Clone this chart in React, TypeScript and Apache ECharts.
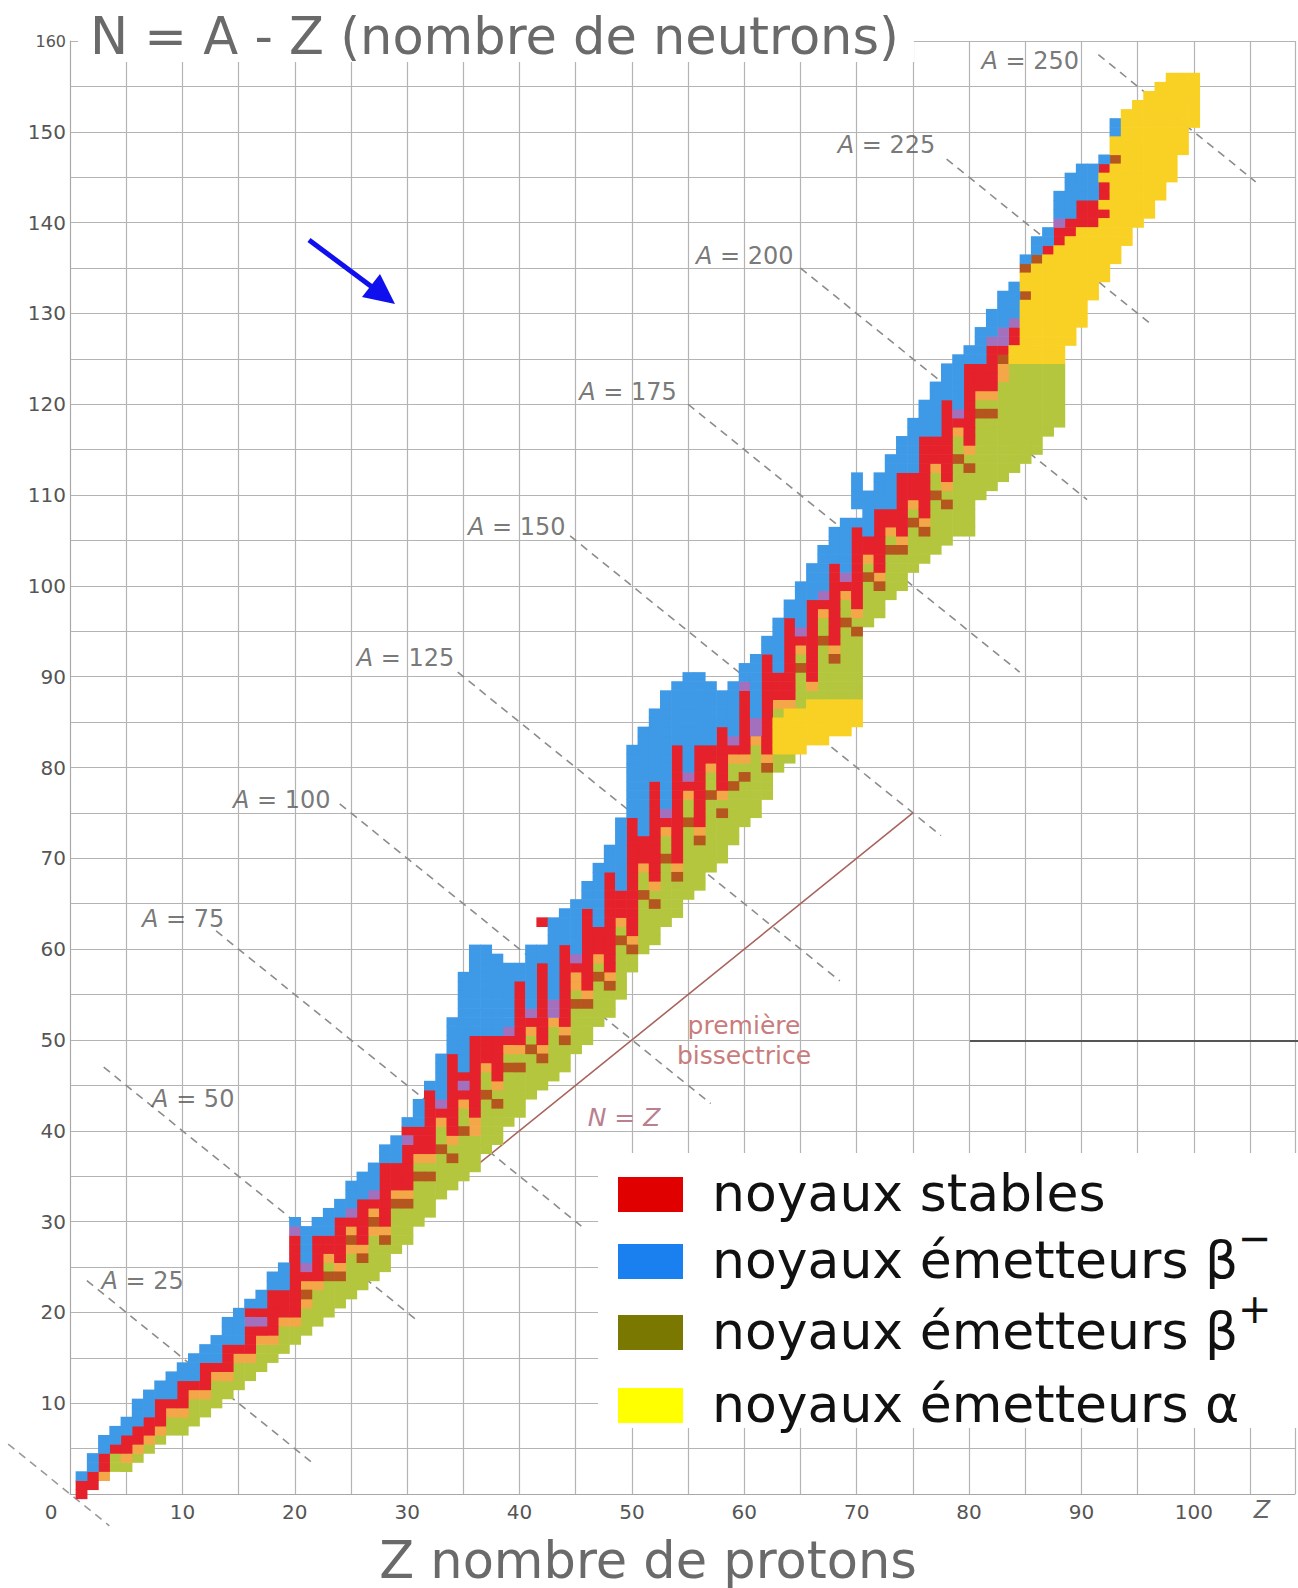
import React, { useEffect, useRef } from "react";
import * as echarts from "echarts";

// Each column: [Z, first N, run-length code from low N upward]
// R stable, B beta-, G beta+, Y alpha, O orange, P purple, D dark, "." gap
const nuclideColumns: [number, number, string][] = [
  [1, 0, "R2B1"],
  [2, 1, "R2B2"],
  [3, 2, "O1R2B2"],
  [4, 3, "G2R1B2"],
  [5, 3, "G1O1R2B2"],
  [6, 4, "G1O1R2B3"],
  [7, 5, "G1O1R2B3"],
  [8, 6, "G1O1R3B2"],
  [9, 7, "G2O1R1B3"],
  [10, 7, "G2O1R3B2"],
  [11, 8, "G3O1R1B3"],
  [12, 9, "G2O1R3B2"],
  [13, 10, "G3O1R1B3"],
  [14, 11, "G2O1R3B3"],
  [15, 12, "G3O1R1B4"],
  [16, 13, "G2O1R3P1R1B1"],
  [17, 14, "G3O1R1P1R1B2"],
  [18, 15, "G2O1R5B2"],
  [19, 16, "G3O1R3B3"],
  [20, 17, "G2O1R9P1B1"],
  [21, 18, "G3O1D1O1R1P1B4"],
  [22, 19, "G4O1R5B2"],
  [23, 20, "G4D1G1O1R2B3"],
  [24, 21, "G3D1O1R5B2"],
  [25, 22, "G5O1D1O1R1P1B3"],
  [26, 23, "G3D1O1R5B3"],
  [27, 24, "G5O1D1O1R1P1B3"],
  [28, 25, "G3D1O1R7B2"],
  [29, 27, "G5D1O1R3B3"],
  [30, 28, "G4D1O1R5P1R1B1"],
  [31, 30, "G5D1G1O1R3B3"],
  [32, 31, "G4D1G1O1R7B1"],
  [33, 33, "G5D1G2O1R1P1B5"],
  [34, 34, "G3D1G1O1R9B4"],
  [35, 35, "G5D1G2O1R1P1R1B11"],
  [36, 36, "G4O2R9B10"],
  [37, 38, "G6D1G2O1R3B10"],
  [38, 39, "G4D1G1O1R5B9"],
  [39, 41, "G6D1G1O1R1P1B7"],
  [40, 42, "G5D1G1O1R7B2"],
  [41, 44, "G5D1G1O1R1P1B7"],
  [42, 45, "G3D1O1R9B2.2R1"],
  [43, 46, "G6O1P2B9"],
  [44, 47, "G3D1O1R9B4"],
  [45, 49, "G5D1G1O2R1P1B6"],
  [46, 50, "G4D1O1R9B3"],
  [47, 52, "G5D1G1O1R3B7"],
  [48, 53, "G3D1O1R11B3"],
  [49, 55, "G6D1G1O1R3B8"],
  [50, 58, "G2D1O1R13B8"],
  [51, 60, "G6D1G2O1R3B12"],
  [52, 61, "G4D1G1O1R11B8"],
  [53, 63, "G7D1G2O1R1P1B13"],
  [54, 64, "G4D1O1R13B7"],
  [55, 66, "G8D1G2O1R1P1B11"],
  [56, 67, "G5D1O1R9B8"],
  [57, 69, "G8D1G2O1R2B7"],
  [58, 70, "G5D1G1O1R7B4"],
  [59, 72, "G6D1G2O1R1P1B6"],
  [60, 74, "G5D1G1O1R7P1B2"],
  [61, 75, "G8O1P2B7"],
  [62, 77, "G3D1O1R11B2"],
  [63, 80, "G2Y4G1O1R3B6"],
  [64, 81, "G1Y5O1R9B2"],
  [65, 82, "Y5G4D1G1O1R1P1B5"],
  [66, 83, "Y5G1O1R9B4"],
  [67, 83, "Y5G6D1G2O1R1P1B5"],
  [68, 84, "Y4G4D1O1R9B4"],
  [69, 84, "Y4G8D1G2O1R1P1B6"],
  [70, 85, "Y3G7D1G1O1R9B1.1B4"],
  [71, 96, "G5D1G1O1R2B5"],
  [72, 97, "G3D1O1R7B4"],
  [73, 99, "G5D1G1O1R2B6"],
  [74, 100, "G4D1O1R7B4"],
  [75, 102, "G5D1G1O1R3B6"],
  [76, 103, "G3D1O1R9B4"],
  [77, 104, "G6D1G2O1R3B6"],
  [78, 105, "G4D1G1O1R9B4"],
  [79, 106, "G8D1G2O1R1P1B6"],
  [80, 106, "G7D1G1O1R9B2"],
  [81, 110, "G9D1G1O1R3B4"],
  [82, 111, "G8D1G1O1R5P1B3"],
  [83, 112, "G11O2D1R1P2B4"],
  [84, 113, "G12Y2R2P1B4"],
  [85, 114, "G11Y7D1Y2D1B1"],
  [86, 115, "G10Y11D1B2"],
  [87, 117, "G8Y12R1B2"],
  [88, 118, "G7Y13R2P1B3"],
  [89, 127, "Y12R2B5"],
  [90, 129, "Y11R3B4"],
  [91, 132, "Y8R3B4"],
  [92, 134, "Y7R1Y1R2Y1R1B1"],
  [93, 136, "Y11D1Y2B2"],
  [94, 138, "Y15"],
  [95, 140, "Y14"],
  [96, 141, "Y14"],
  [97, 143, "Y13"],
  [98, 145, "Y12"],
  [99, 148, "Y9"],
  [100, 151, "Y6"],
];

const cellKinds = [
  { code: "G", name: "β+", color: "#b4c63d" },
  { code: "O", name: "β+ / CE", color: "#f4a748" },
  { code: "D", name: "CE", color: "#b5561e" },
  { code: "R", name: "stables", color: "#e5212b" },
  { code: "P", name: "β− / stable", color: "#a370bd" },
  { code: "B", name: "β−", color: "#3e99e6" },
  { code: "Y", name: "α", color: "#f8d124" },
];

// Isobar lines A = const (N = A - Z)
const isobarA = [25, 50, 75, 100, 125, 150, 175, 200, 225, 250];
const isobarZStart = [1.5, 3, 13, 24, 34.5, 44.5, 55, 65, 78, 91.5];
const isobarZEnd = [21.5, 31, 45.5, 57, 68.5, 77.5, 84.5, 90.5, 96, 105.5];
const isobarLabelZ = [2.8, 7.3, 6.4, 14.5, 25.5, 35.4, 45.3, 55.7, 68.3, 81.1];
const isobarLabelN = [23.5, 43.5, 63.3, 76.4, 92.1, 106.5, 121.4, 136.3, 148.6, 157.8];
const zeroIsobarZ = [-5.5, 3.5];
const bisectorZ = [31, 75];

const legendItems = [
  { text: "noyaux stables", sup: "", color: "#e00000" },
  { text: "noyaux émetteurs β", sup: "−", color: "#1a80f0" },
  { text: "noyaux émetteurs β", sup: "+", color: "#7a7800" },
  { text: "noyaux émetteurs α", sup: "", color: "#ffff00" },
];

const FONT = "DejaVu Sans";

function buildCells() {
  const byCode: Record<string, number[][]> = {};
  cellKinds.forEach((k) => (byCode[k.code] = []));
  nuclideColumns.forEach(([z, n0, code]) => {
    let n = n0;
    const re = /([A-Z.])(\d+)/g;
    let m: RegExpExecArray | null;
    while ((m = re.exec(code))) {
      const c = m[1];
      const cnt = parseInt(m[2], 10);
      for (let i = 0; i < cnt; i++) {
        if (c !== ".") byCode[c].push([z, n]);
        n++;
      }
    }
  });
  return byCode;
}

export default function App() {
  const ref = useRef<HTMLDivElement>(null);
  useEffect(() => {
    if (!ref.current) return;
    const chart = echarts.init(ref.current, undefined, { renderer: "svg" });
    const cells = buildCells();

    const cellSeries = cellKinds.map((k) => ({
      type: "custom",
      name: k.name,
      data: cells[k.code],
      encode: { x: 0, y: 1 },
      clip: false,
      silent: true,
      z: 4,
      renderItem: (params: any, api: any) => {
        const z = api.value(0);
        const n = api.value(1);
        const a = api.coord([z - 0.5, n + 0.5]);
        const b = api.coord([z + 0.5, n - 0.5]);
        return {
          type: "rect",
          shape: { x: a[0], y: a[1], width: b[0] - a[0] + 0.6, height: b[1] - a[1] + 0.6 },
          style: { fill: k.color },
        };
      },
    }));

    const isobarSeries = isobarA.map((A, i) => ({
      type: "line",
      data: [
        [isobarZStart[i], A - isobarZStart[i]],
        [isobarZEnd[i], A - isobarZEnd[i]],
      ],
      showSymbol: false,
      symbol: "none",
      silent: true,
      clip: false,
      z: 3,
      lineStyle: { color: "#8c8c8c", width: 1.6, type: [8, 6] },
    }));

    const bisector = {
      type: "line",
      data: bisectorZ.map((z) => [z, z]),
      showSymbol: false,
      symbol: "none",
      silent: true,
      z: 3,
      lineStyle: { color: "#a8645e", width: 1.6 },
    };

    const isobarLabels = {
      type: "scatter",
      data: isobarA.map((A, i) => [isobarLabelZ[i], isobarLabelN[i], A]),
      symbolSize: 0.1,
      silent: true,
      z: 5,
      label: {
        show: true,
        position: "right",
        distance: 0,
        formatter: (p: any) => `{i|A}{t| = ${p.value[2]}}`,
        rich: {
          i: { fontStyle: "italic", fontSize: 24, fontFamily: FONT, color: "#555" },
          t: { fontSize: 24, fontFamily: FONT, color: "#555" },
        },
      },
    };

    const graphics: any[] = [
      { type: "rect", z: 10, shape: { x: 78, y: 0, width: 836, height: 62 }, style: { fill: "#ffffff" } },
      {
        type: "text", z: 11, x: 90, y: 36,
        style: { text: "N = A - Z (nombre de neutrons)", fontSize: 51, fontFamily: FONT, fill: "#6a6a6a", textVerticalAlign: "middle" },
      },
      {
        type: "text", z: 11, x: 648, y: 1560,
        style: { text: "Z nombre de protons", fontSize: 51, fontFamily: FONT, fill: "#6a6a6a", textAlign: "center", textVerticalAlign: "middle" },
      },
      {
        type: "text", z: 11, x: 1262, y: 1510,
        style: { text: "Z", fontSize: 24, fontStyle: "italic", fontFamily: FONT, fill: "#666", textAlign: "center", textVerticalAlign: "middle" },
      },
      { type: "rect", z: 10, shape: { x: 598, y: 1153, width: 700, height: 275 }, style: { fill: "#ffffff" } },
      {
        type: "text", z: 11, x: 744, y: 1025,
        style: { text: "première", fontSize: 25, fontFamily: FONT, fill: "#c97c7c", textAlign: "center", textVerticalAlign: "middle" },
      },
      {
        type: "text", z: 11, x: 744, y: 1055,
        style: { text: "bissectrice", fontSize: 25, fontFamily: FONT, fill: "#c97c7c", textAlign: "center", textVerticalAlign: "middle" },
      },
      {
        type: "text", z: 11, x: 624, y: 1117,
        style: { text: "N = Z", fontSize: 25, fontStyle: "italic", fontFamily: FONT, fill: "#b98090", textAlign: "center", textVerticalAlign: "middle" },
      },
      { type: "line", z: 11, shape: { x1: 970, y1: 1041, x2: 1298, y2: 1041 }, style: { stroke: "#555", lineWidth: 2 } },
      { type: "line", z: 11, shape: { x1: 309, y1: 240, x2: 372, y2: 287 }, style: { stroke: "#1010ee", lineWidth: 5 } },
      {
        type: "polygon", z: 11,
        shape: { points: [[395, 304], [362, 297], [380, 274]] },
        style: { fill: "#1010ee" },
      },
    ];

    const rowY = [1193, 1260, 1331, 1404];
    legendItems.forEach((it, i) => {
      graphics.push({
        type: "rect", z: 12,
        shape: { x: 618, y: rowY[i] - 16, width: 65, height: 35 },
        style: { fill: it.color },
      });
      graphics.push({
        type: "text", z: 12, x: 712, y: rowY[i],
        style: { text: it.text, fontSize: 52, fontFamily: FONT, fill: "#111", textVerticalAlign: "middle" },
      });
      if (it.sup) {
        graphics.push({
          type: "text", z: 12, x: 1238, y: rowY[i] - 22,
          style: { text: it.sup, fontSize: 40, fontFamily: FONT, fill: "#111", textVerticalAlign: "middle" },
        });
      }
    });

    chart.setOption({
      animation: false,
      backgroundColor: "#ffffff",
      grid: { left: 70, right: 2, top: 41, bottom: 94, containLabel: false },
      xAxis: {
        type: "value",
        min: 0,
        max: 109,
        interval: 5,
        axisLine: { show: true, lineStyle: { color: "#a8a8a8" } },
        axisTick: { show: false },
        splitLine: { show: true, lineStyle: { color: "#b4b4b4", width: 1.2 } },
        axisLabel: {
          margin: 8,
          fontSize: 20,
          fontFamily: FONT,
          color: "#555",
          formatter: (v: number) => (v === 0 ? "{z|0}" : v % 10 === 0 && v <= 100 ? String(v) : ""),
          rich: { z: { padding: [0, 38, 0, 0], fontSize: 20, fontFamily: FONT, color: "#555" } },
        },
      },
      yAxis: {
        type: "value",
        min: 0,
        max: 160,
        interval: 5,
        axisLine: { show: true, lineStyle: { color: "#a8a8a8" } },
        axisTick: { show: false },
        splitLine: { show: true, lineStyle: { color: "#b4b4b4", width: 1.2 } },
        axisLabel: {
          margin: 4,
          fontSize: 20,
          fontFamily: FONT,
          color: "#555",
          formatter: (v: number) => (v === 160 ? "{s|160}" : v !== 0 && v % 10 === 0 ? String(v) : ""),
          rich: { s: { fontSize: 16, fontFamily: FONT, color: "#555" } },
        },
      },
      series: [...cellSeries, ...isobarSeries, bisector, isobarLabels],
      graphic: graphics,
    } as any);

    // zero isobar (A = 0) extends left of the axis: place it with the axis scales
    const p0 = chart.convertToPixel({ gridIndex: 0 }, [zeroIsobarZ[0], -zeroIsobarZ[0]]) as number[];
    const p1 = chart.convertToPixel({ gridIndex: 0 }, [zeroIsobarZ[1], -zeroIsobarZ[1]]) as number[];
    chart.setOption({
      graphic: [
        ...graphics,
        {
          type: "line", z: 3,
          shape: { x1: p0[0], y1: p0[1], x2: p1[0], y2: p1[1] },
          style: { stroke: "#9a9a9a", lineWidth: 1.6, lineDash: [8, 6] },
        },
      ],
    } as any);
    return () => chart.dispose();
  }, []);
  return <div ref={ref} style={{ position: "absolute", left: 0, top: 0, width: 1298, height: 1588 }} />;
}
